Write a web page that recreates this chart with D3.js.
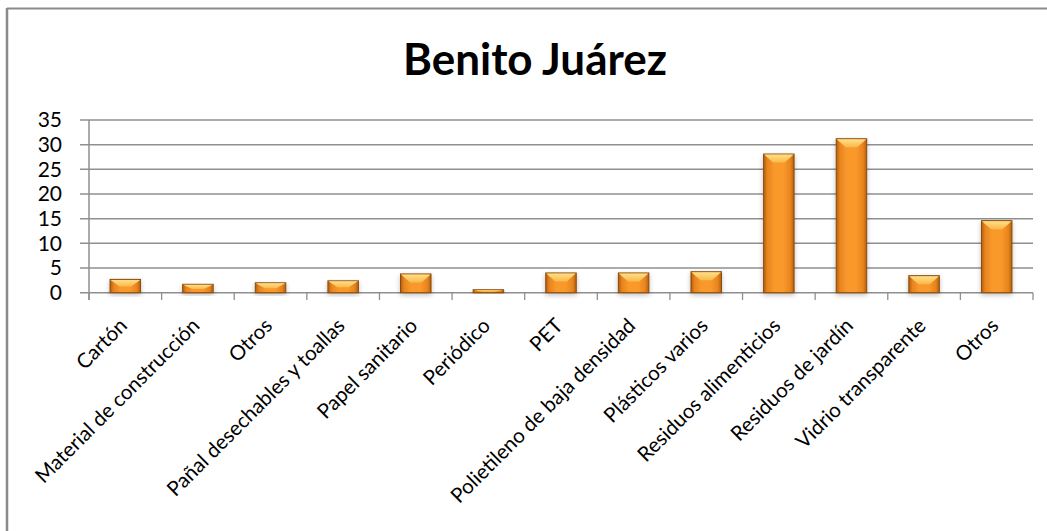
<!DOCTYPE html>
<html><head><meta charset="utf-8">
<script src="https://cdn.jsdelivr.net/npm/d3@7"></script>
<style>
html,body{margin:0;padding:0;background:#fff;}
svg{display:block;}
text{font-family:Lato,"Open Sans",sans-serif;fill:#000;}
</style></head>
<body>
<svg id="chart" width="1047" height="531"></svg>
<script>
const title = "Benito Juárez";
const categories = ["Cartón","Material de construcción","Otros","Pañal desechables y toallas","Papel sanitario","Periódico","PET","Polietileno de baja densidad","Plásticos varios","Residuos alimenticios","Residuos de jardín","Vidrio transparente","Otros"];
const values = [2.7,1.7,2.0,2.4,3.8,0.6,4.0,4.0,4.25,28.1,31.2,3.45,14.6];
const yTicks = [0,5,10,15,20,25,30,35];

(function(){
const svg = d3.select("#chart");
const W = 1047, H = 531;
const pLeft = 89, pRight = 1033, pTop = 120, pBottom = 292.7;

// border (top + left only, like the cropped original)
svg.append("line").attr("x1",7).attr("x2",W).attr("y1",8.5).attr("y2",8.5).attr("stroke","#8a8a8a").attr("stroke-width",2);
svg.append("line").attr("x1",7).attr("x2",7).attr("y1",8).attr("y2",H).attr("stroke","#8a8a8a").attr("stroke-width",2.5);

const idx = categories.map((d,i)=>i);
const x = d3.scaleBand().domain(idx).range([pLeft,pRight]).paddingInner(0.58).paddingOuter(0.29);
const y = d3.scaleLinear().domain([0,35]).range([pBottom,pTop]);

// defs
const defs = svg.append("defs");
const g1 = defs.append("linearGradient").attr("id","barGrad").attr("x1","0").attr("x2","1").attr("y1","0").attr("y2","0");
[[0,"#b0600f"],[0.12,"#e8841e"],[0.35,"#f9992c"],[0.65,"#f9992c"],[0.88,"#e8841e"],[1,"#b0600f"]].forEach(s=>g1.append("stop").attr("offset",s[0]).attr("stop-color",s[1]));
const g2 = defs.append("linearGradient").attr("id","topGrad").attr("x1","0").attr("x2","0").attr("y1","0").attr("y2","1");
[[0,"#fde08a"],[1,"#fbb848"]].forEach(s=>g2.append("stop").attr("offset",s[0]).attr("stop-color",s[1]));
const f = defs.append("filter").attr("id","shadow").attr("x","-30%").attr("y","-30%").attr("width","160%").attr("height","160%");
f.append("feGaussianBlur").attr("in","SourceAlpha").attr("stdDeviation",2.5).attr("result","b");
f.append("feOffset").attr("in","b").attr("dx",0).attr("dy",2).attr("result","o");
f.append("feComponentTransfer").attr("in","o").attr("result","o2").append("feFuncA").attr("type","linear").attr("slope",0.25);
const fm = f.append("feMerge"); fm.append("feMergeNode").attr("in","o2"); fm.append("feMergeNode").attr("in","SourceGraphic");

// gridlines
svg.append("g").selectAll("line").data(yTicks).join("line")
  .attr("x1",80).attr("x2",pRight).attr("y1",d=>y(d)).attr("y2",d=>y(d))
  .attr("stroke","#8f8f8f").attr("stroke-width",1.5);

// y axis
const yAxis = d3.axisLeft(y).tickValues(yTicks).tickSize(0).tickPadding(27);
const ya = svg.append("g").attr("transform",`translate(${pLeft},0)`).call(yAxis);
ya.select(".domain").remove();
ya.selectAll("text").attr("font-size",21).attr("font-family","Lato,'Open Sans',sans-serif").attr("fill","#000");
svg.append("line").attr("x1",pLeft).attr("x2",pLeft).attr("y1",pTop).attr("y2",300).attr("stroke","#8f8f8f").attr("stroke-width",1.5);

// x axis tick marks at category boundaries
const bounds = d3.range(categories.length+1).map(i=>pLeft + i*x.step());
svg.append("g").selectAll("line").data(bounds).join("line")
  .attr("x1",d=>d).attr("x2",d=>d).attr("y1",pBottom).attr("y2",300)
  .attr("stroke","#8f8f8f").attr("stroke-width",1.3);

// bars
const bw = x.bandwidth();
const bars = svg.append("g").selectAll("g").data(values).join("g").attr("filter","url(#shadow)");
bars.append("rect")
  .attr("x",(d,i)=>x(i)).attr("y",d=>y(d)).attr("width",bw).attr("height",d=>pBottom-y(d))
  .attr("fill","url(#barGrad)").attr("stroke","#8b4a0c").attr("stroke-width",1);
bars.append("path")
  .attr("d",(d,i)=>{
    const x0=x(i)+0.5, x1=x(i)+bw-0.5, yt=y(d)+0.5;
    const h = Math.min(8,(pBottom-y(d))*0.5);
    const ins = Math.min(9,bw*0.3);
    return `M${x0},${yt}L${x1},${yt}L${x1-ins},${yt+h}L${x0+ins},${yt+h}Z`;
  })
  .attr("fill","url(#topGrad)");

// x labels
svg.append("g").selectAll("text").data(categories).join("text")
  .attr("transform",(d,i)=>`translate(${x(i)+bw/2+3},${327}) rotate(-45)`)
  .attr("text-anchor","end")
  .attr("font-size",20.5)
  .text(d=>d);

// title
svg.append("text").attr("x",535).attr("y",75).attr("text-anchor","middle")
  .attr("font-size",44).attr("font-weight","bold").text(title);
})();
</script>
</body></html>
